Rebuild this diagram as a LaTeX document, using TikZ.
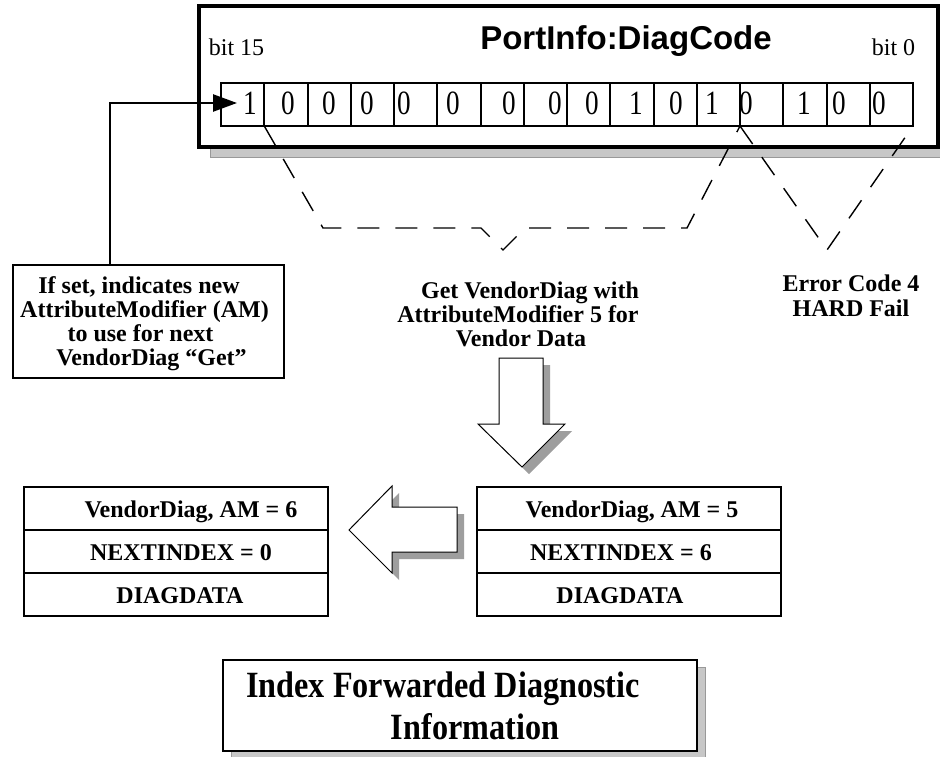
\documentclass[tikz,border=0pt]{standalone}
\usepackage{fontspec}
\setmainfont{Liberation Serif}
\newfontfamily\titlefont{Liberation Sans}
\usepackage{graphicx}
\usetikzlibrary{arrows.meta}
\begin{document}
\begin{tikzpicture}[x=1pt,y=-1pt,
  every node/.style={inner sep=0pt, outer sep=0pt},
  bigframe/.style={draw, line width=4pt, fill=white},
  boxshadow/.style={fill=black!22, draw=black!40, line width=0.8pt},
  arrowshadow/.style={fill=black!38, draw=none},
  cell/.style={draw, line width=2pt, minimum width=43.25pt, minimum height=43pt},
  digit/.style={font=\fontsize{34}{34}\selectfont, anchor=base},
  lbl/.style={font=\fontsize{24}{24}\selectfont\bfseries, anchor=base},
  biglbl/.style={font=\fontsize{37}{37}\selectfont\bfseries, anchor=base},
  bitlbl/.style={font=\fontsize{24}{24}\selectfont, anchor=base},
  rowbox/.style={draw, line width=2pt, minimum width=304pt, minimum height=43pt},
  thinbox/.style={draw, line width=2pt, fill=white},
  bracepath/.style={draw, line width=1.4pt, dash pattern=on 22pt off 16pt},
  blockarrow/.style={draw, line width=1pt, fill=white, line join=miter},
  pointer/.style={line width=2.5pt, -{Triangle[length=24pt,width=17pt]}},
]
\useasboundingbox (0,0) rectangle (940,757);
\fill[white] (0,0) rectangle (940,757);

% ---- top register box ----
\fill[boxshadow] (210,12) rectangle (952,157);
\node[bigframe, minimum width=739pt, minimum height=141pt] (topbox) at (568,76.5) {};
\node[lbl, font=\titlefont\bfseries\fontsize{33}{33}\selectfont] (title) at (626,50) {PortInfo:DiagCode};
\node[bitlbl] (bit15) at (236.5,56) {bit 15};
\node[bitlbl] (bit0) at (893.5,56) {bit 0};

\foreach \i in {1,...,16} {
  \pgfmathsetmacro{\cx}{221+43.25*(\i-0.5)}
  \node[cell] (cell\i) at (\cx,104.5) {};
}
\foreach \x/\b [count=\i] in {250/1,288/0,329/0,367/0,404/0,453/0,509/0,555/0,592/0,636/1,676/0,712/1,746/0,804/1,839/0,879/0}
  \node[digit] (dig\i) at (\x,115) {\scalebox{0.8}[1]{\b}};

% ---- dashed brackets ----
\coordinate (b1b) at (323,228);
\coordinate (b1c) at (481,228);
\coordinate (b1d) at (503,250);
\coordinate (b1e) at (525,228);
\coordinate (b1f) at (687,228);
\coordinate (b2tip) at (827,250);
\draw[bracepath] (cell1.south east) -- (b1b) -- (b1c) -- (b1d) -- (b1e) -- (b1f) -- (cell12.south east);
\draw[bracepath] (cell12.south east) -- (b2tip) -- (cell16.south east);

% ---- left note box and pointer ----
\node[thinbox, minimum width=271pt, minimum height=113pt] (lbox) at (148.5,321.5) {};
\node[lbl] (n1) at (139,293) {If set, indicates new};
\node[lbl] (n2) at (144.5,317) {AttributeModifier (AM)};
\node[lbl] (n3) at (140.5,341) {to use for next};
\node[lbl] (n4) at (151.5,365) {VendorDiag “Get”};
\coordinate (bend) at (110,103);
\coordinate (tip) at (237,103);
\draw[pointer] (lbox.north -| bend) -- (bend) -- (tip);

% ---- middle and right labels ----
\node[lbl] (g1) at (530,298) {Get VendorDiag with};
\node[lbl] (g2) at (518,322) {AttributeModifier 5 for};
\node[lbl] (g3) at (521,346) {Vendor Data};
\node[lbl] (e1) at (851,291) {Error Code 4};
\node[lbl] (e2) at (851,316) {HARD Fail};

% ---- block arrows ----
\fill[arrowshadow, shift={(7,7)}] (499,358) -- (543,358) -- (543,424) -- (565,424) -- (522,467) -- (478,424) -- (499,424) -- cycle;
\draw[blockarrow] (499,358) -- (543,358) -- (543,424) -- (565,424) -- (522,467) -- (478,424) -- (499,424) -- cycle;
\fill[arrowshadow, shift={(7,7)}] (349,530) -- (392,486) -- (392,507) -- (457,507) -- (457,552) -- (392,552) -- (392,573) -- cycle;
\draw[blockarrow] (349,530) -- (392,486) -- (392,507) -- (457,507) -- (457,552) -- (392,552) -- (392,573) -- cycle;

% ---- tables ----
\node[rowbox] (la) at (176,508.5) {};
\node[rowbox] (lb) at (176,551.5) {};
\node[rowbox] (lc) at (176,594.5) {};
\node[lbl] (lat) at (191,517) {VendorDiag, AM = 6};
\node[lbl] (lbt) at (181,560) {NEXTINDEX = 0};
\node[lbl] (lct) at (180,603) {DIAGDATA};
\node[rowbox] (ra) at (629,508.5) {};
\node[rowbox] (rb) at (629,551.5) {};
\node[rowbox] (rc) at (629,594.5) {};
\node[lbl] (rat) at (632,517) {VendorDiag, AM = 5};
\node[lbl] (rbt) at (621,560) {NEXTINDEX = 6};
\node[lbl] (rct) at (620,603) {DIAGDATA};

% ---- bottom caption box ----
\fill[boxshadow] (231,667) rectangle (705,762);
\node[thinbox, minimum width=474pt, minimum height=91pt] (bbox) at (460,705.5) {};
\node[biglbl] (bt1) at (443,697) {\scalebox{0.87}[1]{Index Forwarded Diagnostic}};
\node[biglbl] (bt2) at (475,739) {\scalebox{0.87}[1]{Information}};
\end{tikzpicture}
\end{document}
